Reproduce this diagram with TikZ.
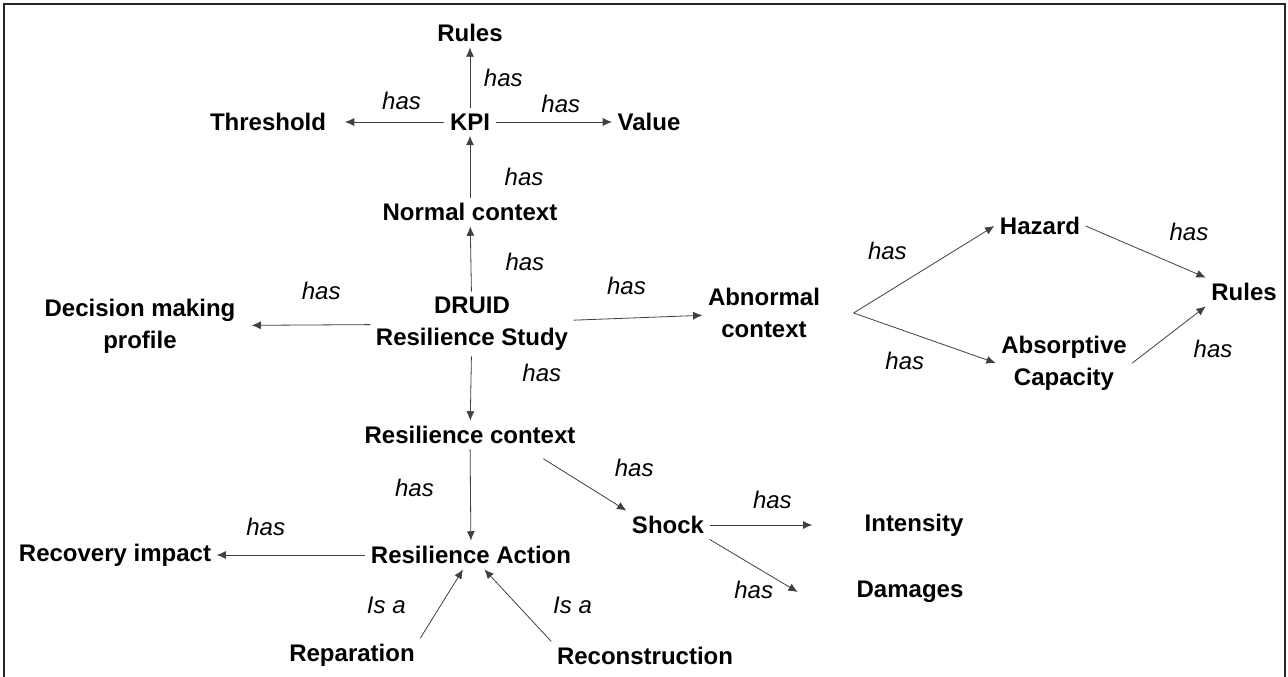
\documentclass[tikz,border=0pt]{standalone}
\usepackage{fontspec}
\setmainfont{Liberation Sans}
\usetikzlibrary{arrows.meta}

\begin{document}
\begin{tikzpicture}[x=0.75pt, y=-0.75pt,
        concept/.style={font=\fontsize{18}{24}\selectfont\bfseries, align=center, inner sep=4pt},
        rel/.style={font=\fontsize{18}{22}\selectfont\itshape, inner sep=0pt},
        link/.style={draw=black!75, line width=0.6pt, -{Latex[length=7pt, width=6pt]}},
        frame/.style={draw=black!85, line width=1.6pt}]
    \useasboundingbox (0,0) rectangle (1288,677);
    \draw[frame] (4,677) -- (4,4) -- (1285,4) -- (1285,677);

    \node[concept] (rulesk) at (470,33) {Rules};
    \node[concept] (kpi) at (470,122) {KPI};
    \node[concept] (threshold) at (268,122) {Threshold};
    \node[concept] (value) at (649,122) {Value};
    \node[concept] (normal) at (470,212) {Normal context};
    \node[concept] (study) at (472,324) {DRUID\\Resilience Study};
    \node[concept] (decision) at (140,326) {Decision making\\profile};
    \node[concept] (abnormal) at (764,313) {Abnormal\\context};
    \node[concept] (hazard) at (1040,226) {Hazard};
    \node[concept] (rulesh) at (1244,292) {Rules};
    \node[concept] (absorptive) at (1064,363) {Absorptive\\Capacity};
    \node[concept] (rescontext) at (470,435) {Resilience context};
    \node[concept] (shock) at (668,525) {Shock};
    \node[concept] (intensity) at (914,525) {Intensity};
    \node[concept] (damages) at (910,592) {Damages};
    \node[concept] (action) at (471,555) {Resilience Action};
    \node[concept] (recovery) at (115,555) {Recovery impact};
    \node[concept] (reparation) at (352,655) {Reparation};
    \node[concept] (reconstruction) at (645,656) {Reconstruction};

    \draw[link] (kpi) -- node[rel, xshift=25pt] {has} (rulesk);
    \draw[link, shorten >=10pt] (kpi) -- node[rel, pos=.38, yshift=16pt] {has} (threshold);
    \draw[link] (kpi) -- node[rel, pos=.56, yshift=13.5pt] {has} (value);
    \draw[link] (normal) -- node[rel, pos=.34, xshift=40.5pt] {has} (kpi);
    \draw[link] (study) -- node[rel, pos=.45, xshift=40.5pt] {has} (normal);
    \draw[link, shorten >=8pt] (study) -- node[rel, pos=.38, yshift=25.5pt] {has} (decision);
    \draw[link] (study) -- node[rel, pos=.41, yshift=24pt] {has} (abnormal);
    \draw[link] (study) -- node[rel, pos=.26, xshift=53pt] {has} (rescontext);
    \draw[link] ([xshift=21pt]abnormal.east) -- node[rel, pos=.24, yshift=31pt] {has} (hazard.west);
    \draw[link] ([xshift=21pt]abnormal.east) -- node[rel, pos=.36, yshift=-22.5pt] {has} (absorptive.west);
    \draw[link] (hazard.east) -- node[rel, pos=.86, yshift=29pt] {has} (rulesh.north west);
    \draw[link] (absorptive.east) -- node[rel, pos=.7, xshift=22pt, yshift=-19pt] {has} (rulesh.south west);
    \draw[link] (rescontext) -- node[rel, pos=.42, xshift=-42pt] {has} (action);
    \draw[link] ([xshift=55pt, yshift=-7pt]rescontext.south) -- node[rel, xshift=37pt, yshift=12.5pt] {has} (shock.north west);
    \draw[link, shorten >=35pt] (shock) -- node[rel, pos=.42, yshift=19pt] {has} (intensity);
    \draw[link] (shock.south east) -- node[rel, yshift=-18.5pt] {has} ([xshift=-40pt]damages.west);
    \draw[link] (action) -- node[rel, pos=.67, yshift=21pt] {has} (recovery);
    \draw[link] (reparation.north east) -- node[rel, xshift=-41.5pt, yshift=-1.5pt] {Is a} ([xshift=-6pt]action.south);
    \draw[link] (reconstruction.north west) -- node[rel, xshift=41pt] {Is a} ([xshift=10pt]action.south);
\end{tikzpicture}
\end{document}
